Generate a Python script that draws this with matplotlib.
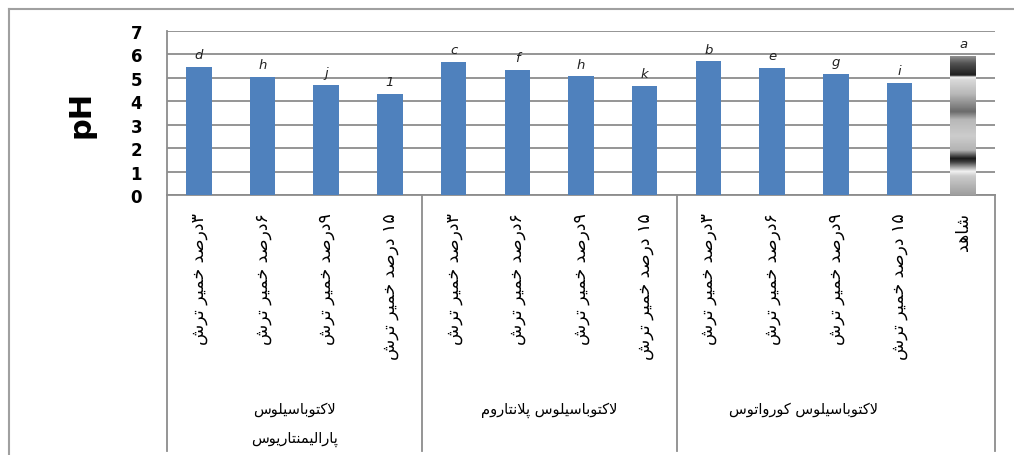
import re
import numpy as np
import matplotlib
matplotlib.use("Agg")
import matplotlib.pyplot as plt
from matplotlib import transforms
from matplotlib.lines import Line2D

# data
tick_labels = ["۳درصد خمیر ترش", "۶درصد خمیر ترش", "۹درصد خمیر ترش", "۱۵ درصد خمیر ترش",
               "۳درصد خمیر ترش", "۶درصد خمیر ترش", "۹درصد خمیر ترش", "۱۵ درصد خمیر ترش",
               "۳درصد خمیر ترش", "۶درصد خمیر ترش", "۹درصد خمیر ترش", "۱۵ درصد خمیر ترش",
               "شاهد"]
ph_values = [5.48, 5.05, 4.70, 4.32,
             5.67, 5.34, 5.06, 4.67,
             5.70, 5.44, 5.16, 4.80,
             5.95]
letters = ["d", "h", "j", "1", "c", "f", "h", "k", "b", "e", "g", "i", "a"]
groups = ["لاکتوباسیلوس\nپارالیمنتاریوس", "لاکتوباسیلوس پلانتاروم", "لاکتوباسیلوس کورواتوس"]
group_sizes = [4, 4, 4]

# simple persian shaping (matplotlib has no text shaping)
FORMS = {
    'ا': ('\uFE8D', '\uFE8E', None, None),
    'ب': ('\uFE8F', '\uFE90', '\uFE91', '\uFE92'),
    'پ': ('\uFB56', '\uFB57', '\uFB58', '\uFB59'),
    'ت': ('\uFE95', '\uFE96', '\uFE97', '\uFE98'),
    'خ': ('\uFEA5', '\uFEA6', '\uFEA7', '\uFEA8'),
    'د': ('\uFEA9', '\uFEAA', None, None),
    'ر': ('\uFEAD', '\uFEAE', None, None),
    'س': ('\uFEB1', '\uFEB2', '\uFEB3', '\uFEB4'),
    'ش': ('\uFEB5', '\uFEB6', '\uFEB7', '\uFEB8'),
    'ص': ('\uFEB9', '\uFEBA', '\uFEBB', '\uFEBC'),
    'ک': ('\uFB8E', '\uFB8F', '\uFB90', '\uFB91'),
    'ل': ('\uFEDD', '\uFEDE', '\uFEDF', '\uFEE0'),
    'م': ('\uFEE1', '\uFEE2', '\uFEE3', '\uFEE4'),
    'ن': ('\uFEE5', '\uFEE6', '\uFEE7', '\uFEE8'),
    'ه': ('\uFEE9', '\uFEEA', '\uFEEB', '\uFEEC'),
    'و': ('\uFEED', '\uFEEE', None, None),
    'ی': ('\uFBFC', '\uFBFD', '\uFBFE', '\uFBFF'),
}


def shape(s):
    out = []
    i = 0
    n = len(s)
    while i < n:
        c = s[i]
        if c not in FORMS:
            out.append(c)
            i += 1
            continue
        prev = s[i - 1] if i > 0 else ''
        linked_prev = prev in FORMS and FORMS[prev][2] is not None
        if c == 'ل' and i + 1 < n and s[i + 1] == 'ا':
            out.append('\uFEFC' if linked_prev else '\uFEFB')
            i += 2
            continue
        nxt = s[i + 1] if i + 1 < n else ''
        linked_next = FORMS[c][2] is not None and nxt in FORMS
        iso, fin, ini, med = FORMS[c]
        if linked_prev and linked_next:
            out.append(med)
        elif linked_prev:
            out.append(fin)
        elif linked_next:
            out.append(ini)
        else:
            out.append(iso)
        i += 1
    return ''.join(out)


def visual(line):
    runs = re.split(r'([0-9۰-۹]+)', shape(line))
    runs = [r if re.fullmatch(r'[0-9۰-۹]+', r) else r[::-1] for r in runs if r]
    return ''.join(runs[::-1])


W, H = 1014, 456
fig = plt.figure(figsize=(W / 100, H / 100), dpi=100)
L, R, T, B = 167, 995, 32, 196
ax = fig.add_axes([L / W, 1 - B / H, (R - L) / W, (B - T) / H])

x = np.arange(len(ph_values))
blue = '#4f81bd'
grid_c = '#8c8c8c'
ax.bar(x[:-1], ph_values[:-1], width=0.4, color=blue, zorder=3)

# control bar with its odd gray shading
cb = ax.bar(x[-1:], ph_values[-1:], width=0.4, color='none', zorder=3)[0]
stops_v = [0.0, 0.8, 1.0, 1.4, 1.55, 1.9, 2.5, 3.2, 3.55, 4.3, 4.9, 5.02, 5.1, 5.6, 5.95]
stops_g = [0.62, 0.8, 0.95, 0.25, 0.1, 0.7, 0.8, 0.72, 0.42, 0.72, 0.85, 0.95, 0.12, 0.32, 0.6]
yy = np.linspace(0, ph_values[-1], 300)
shade = np.interp(yy, stops_v, stops_g)[:, None]
im = ax.imshow(shade, cmap='gray', vmin=0, vmax=1, origin='lower', aspect='auto',
               extent=[x[-1] - 0.2, x[-1] + 0.2, 0, ph_values[-1]], zorder=3)
im.set_clip_path(cb)

for xi, v, t in zip(x, ph_values, letters):
    ax.text(xi, v + 0.25, t, ha='center', va='bottom', fontsize=9.5, style='italic', color='#222222')

ax.set_xlim(-0.5, len(ph_values) - 0.5)
ax.set_ylim(0, 7)
ax.set_yticks(range(8))
ax.set_yticklabels([str(i) for i in range(8)], fontsize=12, fontweight='bold')
ax.tick_params(axis='y', length=0, pad=18)
ax.set_xticks([])
ax.yaxis.grid(True, color=grid_c, lw=1.3, zorder=0)
ax.set_axisbelow(True)
for s in ['top', 'right']:
    ax.spines[s].set_visible(False)
for s in ['left', 'bottom']:
    ax.spines[s].set_color(grid_c)
    ax.spines[s].set_linewidth(1.3)

fig.text(81 / W, 1 - 114 / H, 'pH', rotation=90, ha='center', va='center',
         fontsize=22, fontweight='bold')

tr = transforms.blended_transform_factory(ax.transData, fig.transFigure)
for xi, lab in zip(x, tick_labels):
    ax.text(xi, 1 - 213 / H, visual(lab), transform=tr, rotation=90, ha='center', va='top',
            fontsize=12.5)

start = 0
for g, n in zip(groups, group_sizes):
    for k, line in enumerate(g.split('\n')):
        ax.text(start + (n - 1) / 2, 1 - (410 + 29 * k) / H, visual(line), transform=tr,
                ha='center', va='center', fontsize=10.5)
    start += n

for b in [-0.5, 3.5, 7.5, len(ph_values) - 0.5]:
    ax.add_line(Line2D([b, b], [1 - B / H, 1 - 452 / H], transform=tr, color=grid_c,
                       lw=1.3, clip_on=False))

# outer frame
fig.add_artist(Line2D([9 / W, 1], [1 - 10 / H, 1 - 10 / H], color='#a0a0a0', lw=1.5))
fig.add_artist(Line2D([9 / W, 9 / W], [1 - 10 / H, 0], color='#a0a0a0', lw=1.5))

fig.savefig('out.png', dpi=100)
